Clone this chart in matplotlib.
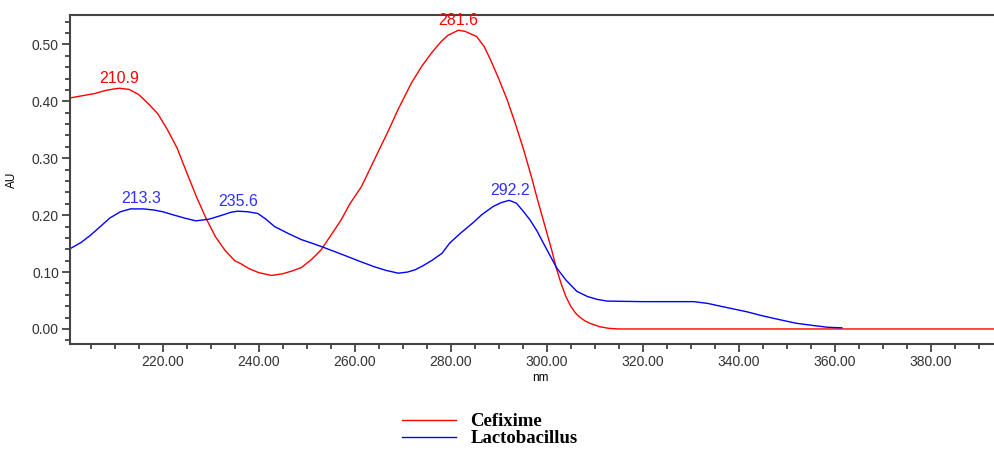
import matplotlib.pyplot as plt
from matplotlib.ticker import MultipleLocator, FormatStrFormatter

# Cefixime spectrum (nm, AU)
cef_nm = [200.7, 202, 204, 206, 208, 210, 211, 213, 215, 217, 219, 221, 223, 225,
          227, 229, 231, 233, 235, 236.2, 238, 240, 242.7, 245, 247, 248.9, 251, 253,
          255, 257.2, 259, 261.4, 263, 265.5, 267, 269, 271.8, 274, 276, 278, 279.4,
          281.6, 283, 285.4, 287, 288.3, 290, 291.8, 293.5, 295.2, 297, 298, 299, 300,
          301, 302, 303, 304, 305, 306, 307, 308, 309, 311, 313, 315, 395]
cef_au = [0.406, 0.408, 0.411, 0.414, 0.419, 0.422, 0.423, 0.421, 0.412, 0.396, 0.378,
          0.350, 0.318, 0.275, 0.233, 0.195, 0.162, 0.138, 0.120, 0.115, 0.106, 0.099,
          0.094, 0.097, 0.102, 0.108, 0.122, 0.139, 0.164, 0.192, 0.220, 0.250, 0.278,
          0.322, 0.348, 0.385, 0.432, 0.462, 0.485, 0.505, 0.516, 0.525, 0.523, 0.514,
          0.496, 0.473, 0.440, 0.402, 0.360, 0.315, 0.262, 0.230, 0.200, 0.170, 0.140,
          0.107, 0.080, 0.057, 0.040, 0.028, 0.020, 0.014, 0.010, 0.004, 0.001, 0.0, 0.0]

# Lactobacillus spectrum (nm, AU)
lac_nm = [200.7, 203, 205, 207, 209, 211.2, 213.3, 216, 218.2, 220, 222.4, 224.5,
          226.9, 229.7, 232, 234.2, 235.6, 237.7, 239.8, 241.5, 243.3, 246.1, 248.9,
          251, 253, 255.5, 258.6, 261, 264.2, 266.5, 269.1, 271, 272.6, 274.2, 276,
          278.2, 279.8, 282, 284.7, 286.5, 288.8, 290.5, 292.2, 293.7, 295, 296.5,
          298, 299.3, 300.7, 302.1, 304, 306.3, 308.5, 310.5, 312.6, 320, 330.6,
          333.5, 336.2, 339, 341.8, 345, 348.7, 352, 355.6, 358.5, 361.5]
lac_au = [0.141, 0.152, 0.165, 0.180, 0.195, 0.206, 0.211, 0.211, 0.209, 0.206, 0.200,
          0.195, 0.190, 0.193, 0.199, 0.205, 0.207, 0.206, 0.203, 0.193, 0.180, 0.168,
          0.157, 0.151, 0.145, 0.137, 0.127, 0.119, 0.109, 0.103, 0.098, 0.100, 0.104,
          0.111, 0.120, 0.133, 0.151, 0.168, 0.187, 0.201, 0.215, 0.222, 0.226, 0.221,
          0.208, 0.192, 0.172, 0.151, 0.129, 0.107, 0.086, 0.066, 0.057, 0.052, 0.049,
          0.048, 0.048, 0.045, 0.040, 0.035, 0.030, 0.023, 0.016, 0.010, 0.006, 0.003,
          0.002]

peak_labels = ["210.9", "281.6", "213.3", "235.6", "292.2"]
peak_x = [211.0, 281.6, 215.5, 235.8, 292.3]
peak_y = [0.423, 0.525, 0.212, 0.207, 0.226]
peak_colors = ["red", "red", "#3030ff", "#3030ff", "#3030ff"]

plt.rcParams['font.family'] = 'Liberation Sans'
fig = plt.figure(figsize=(9.95, 4.5), dpi=100)
ax = fig.add_axes([0.0704, 0.2356, 0.9296, 0.7311])

ax.plot(cef_nm, cef_au, color="red", lw=1.0, label="Cefixime")
ax.plot(lac_nm, lac_au, color="blue", lw=1.0, label="Lactobacillus")

for lab, x, y, c in zip(peak_labels, peak_x, peak_y, peak_colors):
    ax.annotate(lab, (x, y), xytext=(0, 1.5), textcoords="offset points",
                ha="center", va="bottom", color=c, fontsize=11.5)

ax.set_xlim(200.7, 393.4)
ax.set_ylim(-0.0264, 0.5518)
ax.xaxis.set_major_locator(MultipleLocator(20))
ax.xaxis.set_minor_locator(MultipleLocator(5))
ax.yaxis.set_major_locator(MultipleLocator(0.1))
ax.yaxis.set_minor_locator(MultipleLocator(0.02))
ax.xaxis.set_major_formatter(FormatStrFormatter("%.2f"))
ax.yaxis.set_major_formatter(FormatStrFormatter("%.2f"))
ax.tick_params(which="major", length=6, width=1.2, color="#333333",
               labelsize=10, labelcolor="#333333", pad=2)
ax.tick_params(which="minor", length=3.5, width=1.2, color="#333333")

ax.spines["right"].set_visible(False)
for s in ["left", "bottom", "top"]:
    ax.spines[s].set_color("#444444")
    ax.spines[s].set_linewidth(1.5)

ax.set_xlabel("nm", fontsize=8.5)
ax.xaxis.set_label_coords(0.508, -0.085)
ax.set_ylabel("AU", fontsize=8.5)
ax.yaxis.set_label_coords(-0.056, 0.5)

fig.legend(loc="upper left", bbox_to_anchor=(402 / 995, 1 - 413 / 450),
           frameon=False, borderpad=0, borderaxespad=0, labelspacing=0.0,
           handlelength=2.9, handletextpad=0.75,
           prop={"family": "Liberation Serif", "weight": "bold", "size": 13.5})

fig.savefig("out.png", dpi=100)
